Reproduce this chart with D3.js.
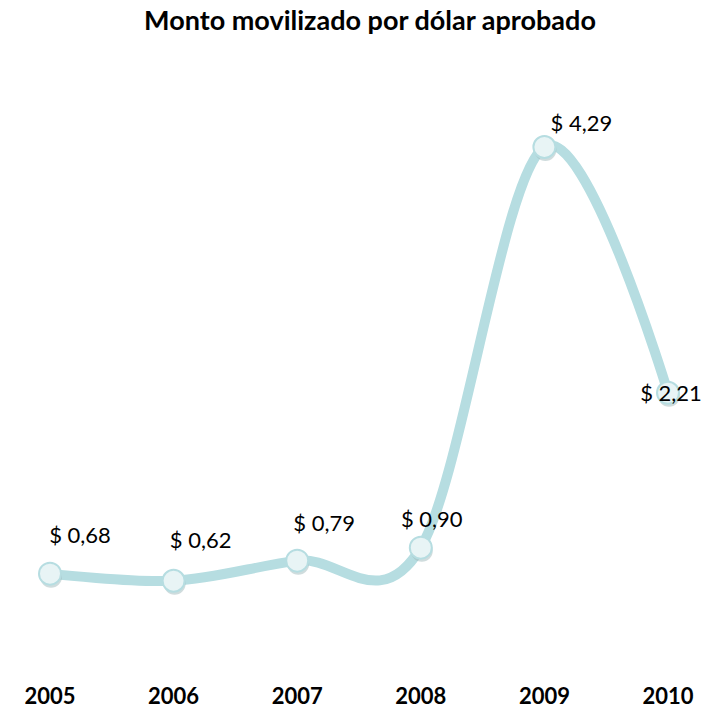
<!DOCTYPE html>
<meta charset="utf-8">
<title>Monto movilizado por dólar aprobado</title>
<script src="https://d3js.org/d3.v7.min.js"></script>
<style>
  body { margin: 0; background: #fff; }
  text { font-family: Lato, "Open Sans", sans-serif; }
</style>
<div id="chart"></div>
<script>
// data
var years = ["2005", "2006", "2007", "2008", "2009", "2010"];
var values = [0.68, 0.62, 0.79, 0.90, 4.29, 2.21];
var labels = ["$ 0,68", "$ 0,62", "$ 0,79", "$ 0,90", "$ 4,29", "$ 2,21"];

// label placement (Excel put them a bit all over the place)
var labelDx = [30, 27, 27, 11, 37, 3];
var labelDy = [-31, -33, -30, -21, -16, 8];

var width = 711, height = 712;

var svg = d3.select("#chart")
  .append("svg")
    .attr("width", width)
    .attr("height", height);

var x = d3.scalePoint()
  .domain(years)
  .range([50, 668]);

var y = d3.scaleLinear()
  .domain([0, 4.29])
  .range([654, 147]);

var lineColor = "#b6dde1";

// title
svg.append("text")
  .attr("x", 370)
  .attr("y", 30)
  .attr("text-anchor", "middle")
  .style("font-size", "27px")
  .style("font-weight", "bold")
  .text("Monto movilizado por dólar aprobado");

var line = d3.line()
  .x(function(d, i) { return x(years[i]); })
  .y(function(d) { return y(d); })
  .curve(d3.curveCardinal.tension(0));

svg.append("path")
  .datum(values)
  .attr("d", line)
  .style("fill", "none")
  .style("stroke", lineColor)
  .style("stroke-width", 10)
  .style("stroke-linecap", "round");

// markers, with a faint shadow underneath
svg.selectAll(".shadow")
  .data(values)
  .enter().append("circle")
    .attr("cx", function(d, i) { return x(years[i]) + 1; })
    .attr("cy", function(d) { return y(d) + 3; })
    .attr("r", 11)
    .style("fill", "#9fb9bc")
    .style("opacity", 0.5);

svg.selectAll(".dot")
  .data(values)
  .enter().append("circle")
    .attr("cx", function(d, i) { return x(years[i]); })
    .attr("cy", function(d) { return y(d); })
    .attr("r", 11)
    .style("fill", "#e8f4f5")
    .style("stroke", lineColor)
    .style("stroke-width", 2);

// value labels
svg.selectAll(".lbl")
  .data(values)
  .enter().append("text")
    .attr("x", function(d, i) { return x(years[i]) + labelDx[i]; })
    .attr("y", function(d, i) { return y(d) + labelDy[i]; })
    .attr("text-anchor", "middle")
    .style("font-size", "22px")
    .style("fill", "#000")
    .text(function(d, i) { return labels[i]; });

// year axis, no line or ticks
svg.selectAll(".year")
  .data(years)
  .enter().append("text")
    .attr("x", function(d) { return x(d); })
    .attr("y", 704)
    .attr("text-anchor", "middle")
    .style("font-size", "22px")
    .style("font-weight", "bold")
    .text(function(d) { return d; });
</script>
